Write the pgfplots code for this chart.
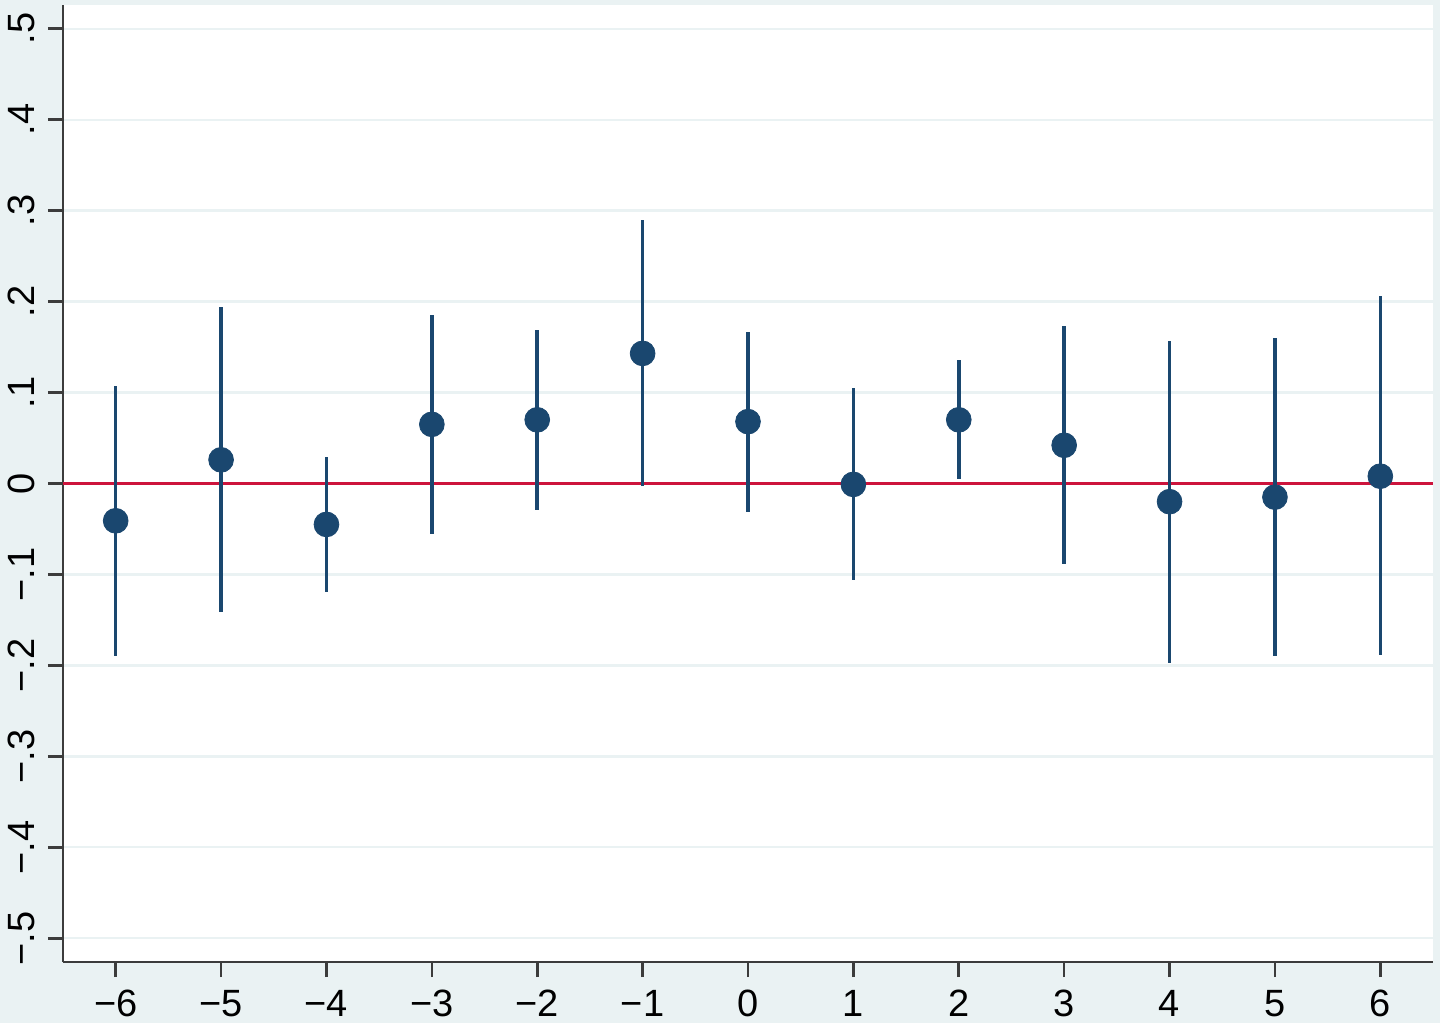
\documentclass[border=0pt]{standalone}
\usepackage{pgfplots}
\pgfplotsset{compat=1.18}
\usepackage{pgfplotstable}
\usepackage{fontspec}
\setmainfont{Liberation Sans}
\definecolor{bgc}{RGB}{234,242,243}
\definecolor{navy}{RGB}{26,71,111}
\definecolor{zred}{RGB}{205,20,60}
\definecolor{axc}{RGB}{60,60,60}
\definecolor{gridc}{RGB}{234,242,243}
\pgfplotstableread{
x y lo hi
-6 -0.041 -0.190 0.107
-5 0.026 -0.141 0.194
-4 -0.045 -0.119 0.029
-3 0.065 -0.055 0.185
-2 0.070 -0.029 0.169
-1 0.143 -0.003 0.290
0 0.068 -0.031 0.166
1 -0.001 -0.106 0.105
2 0.070 0.005 0.136
3 0.042 -0.088 0.173
4 -0.020 -0.197 0.157
5 -0.015 -0.190 0.160
6 0.008 -0.189 0.206
}\coefs
\begin{document}
\fontsize{19bp}{23bp}\selectfont
\begin{tikzpicture}
\fill[bgc] (-31.5bp,-30.5bp) rectangle (688.5bp,481bp);
\begin{axis}[
  scale only axis, width=685bp, height=478.5bp,
  at={(0,0)}, anchor=south west,
  xmin=-6.5, xmax=6.5, ymin=-0.526, ymax=0.526,
  axis background/.style={fill=white},
  axis x line*=bottom, axis y line*=left,
  axis line style={axc, line width=1.3bp, -},
  xtick={-6,-5,-4,-3,-2,-1,0,1,2,3,4,5,6},
  xticklabels={−6,−5,−4,−3,−2,−1,0,1,2,3,4,5,6},
  ytick={-0.5,-0.4,-0.3,-0.2,-0.1,0,0.1,0.2,0.3,0.4,0.5},
  yticklabels={−.5,−.4,−.3,−.2,−.1,0,.1,.2,.3,.4,.5},
  tick align=outside, major tick length=7.5bp,
  tick style={axc, line width=1.3bp},
  ymajorgrids, grid style={gridc, line width=1.1bp},
  yticklabel style={rotate=90, anchor=south, font=\fontsize{19bp}{23bp}\selectfont},
  xticklabel style={font=\fontsize{19bp}{23bp}\selectfont},
]
\addplot[zred, line width=1.5bp, forget plot] coordinates {(-6.5,0) (6.5,0)};
\addplot[only marks, mark=*, mark size=6.2bp, mark options={fill=navy, draw=navy},
  error bars/.cd, y dir=both, y explicit, error mark=none,
  error bar style={navy, line width=1.8bp}]
  table[x=x, y=y, y error plus expr=\thisrow{hi}-\thisrow{y}, y error minus expr=\thisrow{y}-\thisrow{lo}] {\coefs};
\end{axis}
\pgfresetboundingbox
\useasboundingbox (-31.5bp,-30.5bp) rectangle (688.5bp,481bp);
\end{tikzpicture}
\end{document}
